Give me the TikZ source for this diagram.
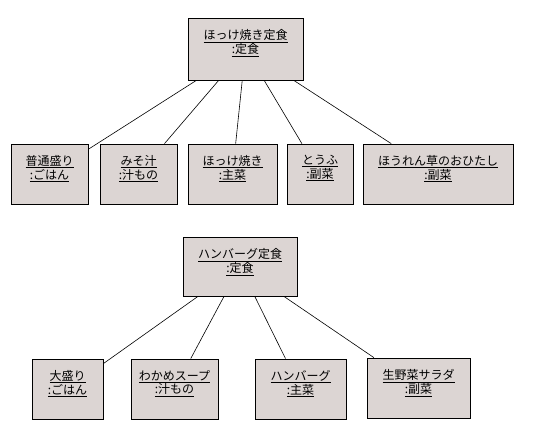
\documentclass[tikz,border=0pt]{standalone}
\usepackage{fontspec}
\setmainfont{Noto Sans CJK JP}
\usetikzlibrary{positioning}
\definecolor{ObjFill}{HTML}{DCD5D3}
\newcommand{\objtext}[2]{\lineskiplimit=-20pt\relax\underline{#1}\\\underline{#2}}
\tikzset{
  objbox/.style={draw=black,fill=ObjFill,line width=0.8pt,minimum height=60pt,inner sep=0pt},
  objname/.style={align=center,inner sep=0pt,font=\fontsize{12}{12}\selectfont},
  link/.style={draw=black,line width=0.6pt},
}

\begin{document}
\begin{tikzpicture}[x=1pt,y=-1pt]
  \useasboundingbox (0,0) rectangle (538,444);
  % first set
  \node[objbox,minimum width=115pt,minimum height=62pt] (hokkeSet) at (245.5,49) {};
  \node[objbox,minimum width=77pt] (futsuMori) at (49.5,174) {};
  \node[objbox,minimum width=77pt] (misoShiru) at (138.5,174) {};
  \node[objbox,minimum width=89pt] (hokkeYaki) at (232.5,174) {};
  \node[objbox,minimum width=66pt] (tofu) at (320,174) {};
  \node[objbox,minimum width=150pt] (hourensou) at (438,174) {};
  \foreach \n in {futsuMori,misoShiru,hokkeYaki,tofu,hourensou}
    \draw[link] (hokkeSet) -- (\n);
  \node[objname,below=11.4pt of hokkeSet.north] (hokkeSetTxt) {\objtext{ほっけ焼き定食}{:定食}};
  \node[objname,below=11.4pt of futsuMori.north] (futsuMoriTxt) {\objtext{普通盛り}{:ごはん}};
  \node[objname,below=11.4pt of misoShiru.north] (misoShiruTxt) {\objtext{みそ汁}{:汁もの}};
  \node[objname,below=11.4pt of hokkeYaki.north] (hokkeYakiTxt) {\objtext{ほっけ焼き}{:主菜}};
  \node[objname,below=11.4pt of tofu.north] (tofuTxt) {\objtext{とうふ}{:副菜}};
  \node[objname,below=11.4pt of hourensou.north] (hourensouTxt) {\objtext{ほうれん草のおひたし}{:副菜}};
  % second set
  \node[objbox,minimum width=114pt,minimum height=59pt] (hambSet) at (240,266.5) {};
  \node[objbox,minimum width=71pt] (oomori) at (67.5,389) {};
  \node[objbox,minimum width=87pt] (wakame) at (174.5,389) {};
  \node[objbox,minimum width=91pt] (hamburg) at (300.5,389) {};
  \node[objbox,minimum width=103pt] (salad) at (418.5,388) {};
  \foreach \n in {oomori,wakame,hamburg,salad}
    \draw[link] (hambSet) -- (\n);
  \node[objname,below=11.4pt of hambSet.north] (hambSetTxt) {\objtext{ハンバーグ定食}{:定食}};
  \node[objname,below=11.4pt of oomori.north] (oomoriTxt) {\objtext{大盛り}{:ごはん}};
  \node[objname,below=11.4pt of wakame.north] (wakameTxt) {\objtext{わかめスープ}{:汁もの}};
  \node[objname,below=11.4pt of hamburg.north] (hamburgTxt) {\objtext{ハンバーグ}{:主菜}};
  \node[objname,below=11.4pt of salad.north] (saladTxt) {\objtext{生野菜サラダ}{:副菜}};
\end{tikzpicture}
\end{document}
